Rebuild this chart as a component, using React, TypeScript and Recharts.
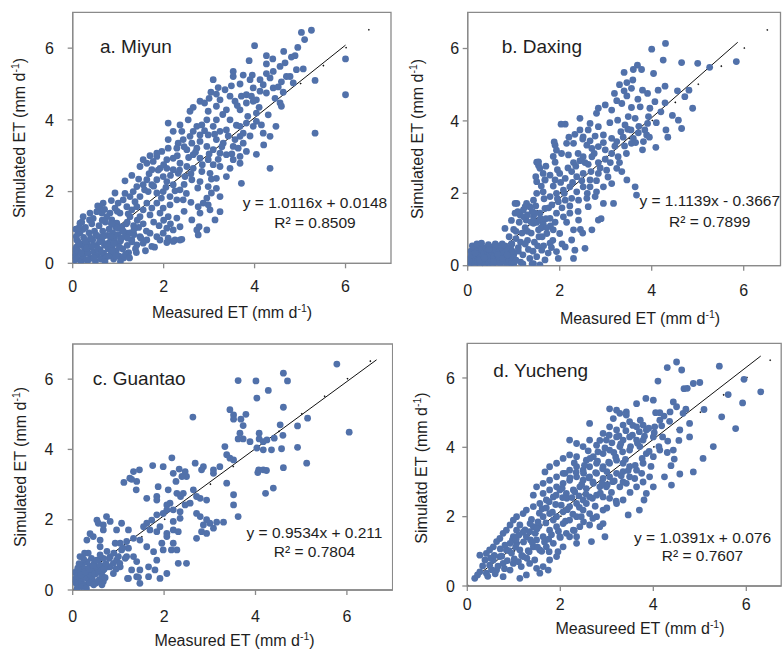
import { ScatterChart, Scatter, XAxis, YAxis, ReferenceLine, ReferenceArea } from "recharts"

const FONT = '"Liberation Sans", Arial, Helvetica, sans-serif'
const DOT_COLOR = "#5171aa"
const FRAME_COLOR = "#8a8a8a"
const TEXT_COLOR = "#1e1e1e"

const axisTicks = [0, 2, 4, 6]
const Y_MAX = 7

const titles = ["a. Miyun", "b. Daxing", "c. Guantao", "d. Yucheng"]
const xTitles = ["Measured ET (mm d", "Measured ET (mm d", "Measured ET (mm d", "Measureed ET (mm d"]
const yTitles = ["Simulated ET (mm d", "Simulated ET (mm d", "Simulated ET (mm d", "Simulatd ET (mm d"]

// linear fit per station: simulated = slope * measured + intercept
const slopes = [1.0116, 1.1139, 0.9534, 1.0391]
const intercepts = [0.0148, -0.3667, 0.211, 0.076]
const rSquared = ["0.8509", "0.7899", "0.7804", "0.7607"]
// x span of the fitted line
const fitFrom = [0.05, 0.33, 0.05, 0.15]
const fitTo = [6.0, 5.87, 6.65, 6.31]

// measured vs simulated daily ET (mm/d)
const miyunPoints = [
  [5.25, 6.5], [5.03, 6.44], [5.1, 6.24], [4.95, 6.02], [5.33, 5.1], [5.33, 3.63], [6.0, 5.7], [6.0, 4.7], [4.0, 6.07], [4.26, 5.79],
  [4.64, 5.91], [4.81, 5.75], [4.89, 5.79], [5.07, 5.42], [4.92, 5.4], [4.67, 5.59], [4.78, 5.21], [4.56, 5.49], [4.41, 5.35], [4.26, 5.56],
  [3.88, 5.65], [4.26, 5.29], [4.12, 5.12], [3.9, 5.12], [3.53, 5.35], [3.53, 5.21], [3.49, 4.95], [3.68, 5.0], [3.35, 4.84], [3.09, 5.12],
  [3.04, 4.77], [3.16, 4.72], [3.46, 4.66], [3.71, 4.66], [3.82, 4.7], [3.93, 4.66], [4.04, 4.56], [4.12, 4.8], [4.26, 4.75], [4.41, 4.89],
  [4.52, 4.92], [4.63, 4.77], [4.85, 5.03], [4.7, 5.21], [4.59, 5.06], [4.34, 5.17], [4.19, 4.98], [3.97, 4.89], [3.97, 4.52], [3.82, 4.47],
  [3.57, 4.52], [3.24, 4.56], [3.16, 4.38], [2.8, 4.52], [2.9, 4.47], [2.58, 4.24], [2.98, 4.24], [3.38, 4.28], [3.68, 4.28], [4.04, 4.19],
  [4.3, 4.14], [4.56, 4.47], [4.59, 4.38], [4.47, 3.82], [4.34, 3.54], [4.19, 3.63], [4.15, 3.86], [4.04, 3.96], [3.97, 3.82], [3.82, 3.91],
  [3.75, 3.63], [3.68, 3.82], [3.68, 3.54], [3.57, 3.45], [3.46, 4.0], [3.38, 3.72], [3.24, 3.68], [3.16, 4.0], [3.09, 3.82], [2.95, 4.0],
  [2.84, 3.86], [2.73, 3.82], [2.65, 3.68], [2.54, 4.0], [2.36, 3.86], [2.4, 3.68], [2.21, 3.68], [2.58, 3.54], [2.8, 3.58], [2.98, 3.58],
  [3.16, 3.45], [3.31, 3.35], [3.53, 3.26], [3.64, 3.21], [3.68, 2.98], [3.82, 3.12], [3.53, 2.89], [3.38, 3.03], [3.24, 3.07], [3.09, 3.17],
  [2.95, 3.26], [2.8, 3.4], [2.73, 3.21], [2.62, 3.35], [2.43, 3.45], [2.32, 3.35], [2.1, 3.45], [1.96, 3.12], [2.1, 3.21], [2.29, 3.21],
  [2.51, 3.17], [2.65, 3.03], [2.8, 2.93], [2.98, 2.89], [3.09, 2.75], [3.24, 2.7], [3.46, 2.65], [3.68, 2.79], [4.34, 2.65], [4.04, 3.04],
  [3.38, 2.42], [3.16, 2.37], [3.02, 2.51], [2.84, 2.56], [2.65, 2.65], [2.51, 2.7], [2.36, 2.79], [2.21, 2.93], [2.07, 2.89], [1.85, 2.98],
  [1.77, 2.84], [1.63, 2.79], [1.55, 2.89], [1.48, 2.7], [1.74, 2.61], [1.92, 2.65], [2.07, 2.65], [2.21, 2.61], [2.32, 2.51], [2.47, 2.42],
  [2.62, 2.33], [2.8, 2.28], [2.98, 2.14], [3.16, 2.09], [3.05, 1.96], [2.95, 1.82], [2.87, 1.68], [2.76, 1.58], [2.8, 1.4], [2.62, 1.21],
  [2.73, 0.93], [2.78, 1.02], [2.76, 0.79], [3.13, 1.21], [3.24, 1.86], [3.02, 1.49], [2.98, 1.63], [2.43, 1.77], [2.36, 2.05], [2.21, 2.19],
  [2.07, 2.28], [1.99, 2.42], [1.85, 2.33], [1.74, 2.19], [1.63, 2.33], [1.55, 2.19], [1.41, 2.14], [1.33, 2.0], [1.26, 1.86], [1.48, 1.86],
  [1.66, 2.0], [1.85, 1.96], [1.99, 2.0], [2.14, 1.86], [2.29, 1.77], [2.14, 1.63], [1.99, 1.54], [1.85, 1.68], [1.74, 1.54], [1.63, 1.68],
  [1.55, 1.49], [1.41, 1.58], [1.3, 1.49], [1.19, 1.58], [1.11, 1.77], [1.0, 1.68], [0.93, 1.54], [0.82, 1.4], [1.04, 1.4], [1.26, 1.3],
  [1.48, 1.3], [1.7, 1.35], [1.92, 1.4], [2.1, 1.3], [2.29, 1.26], [2.36, 1.02], [2.21, 0.93], [2.07, 0.98], [1.99, 0.84], [2.1, 0.7],
  [2.25, 0.65], [2.4, 0.67], [1.85, 0.74], [1.7, 0.84], [1.63, 0.65], [1.48, 0.74], [1.41, 0.51], [1.3, 0.65], [1.19, 0.84], [1.08, 1.02],
  [0.97, 1.12], [0.86, 1.21], [0.75, 1.3], [0.64, 1.4], [0.53, 1.44], [0.38, 1.4], [0.37, 1.21], [0.23, 1.3], [0.16, 1.12], [0.12, 0.84],
  [0.09, 0.65], [0.05, 0.37], [0.05, 0.19], [2.1, 3.91], [1.85, 3.07], [0.93, 1.96], [0.67, 1.68], [0.6, 1.58], [3.71, 2.23], [3.24, 1.44],
  [2.95, 0.93], [1.55, 0.56], [1.74, 0.47], [1.92, 0.65], [2.07, 0.58], [2.21, 0.61], [2.36, 0.65],
  [0.03, 0.08], [0.06, 0.25], [0.08, 0.45], [0.1, 0.12], [0.12, 0.6], [0.14, 0.3], [0.16, 0.85], [0.18, 0.05], [0.2, 0.5], [0.22, 0.2],
  [0.24, 0.72], [0.26, 0.38], [0.28, 1.0], [0.3, 0.1], [0.32, 0.58], [0.34, 0.28], [0.36, 0.85], [0.38, 0.45], [0.4, 0.15], [0.42, 1.1],
  [0.44, 0.65], [0.46, 0.32], [0.48, 0.9], [0.5, 0.05], [0.52, 0.5], [0.54, 0.22], [0.56, 0.75], [0.58, 1.05], [0.6, 0.38], [0.62, 0.12],
  [0.64, 0.62], [0.66, 0.9], [0.68, 0.28], [0.7, 0.5], [0.72, 1.15], [0.74, 0.18], [0.76, 0.78], [0.78, 0.4], [0.8, 0.95], [0.82, 0.6],
  [0.84, 0.25], [0.86, 0.45], [0.88, 0.85], [0.9, 0.12], [0.92, 0.7], [0.94, 1.02], [0.96, 0.35], [0.98, 0.55], [1.0, 0.8], [1.02, 0.2],
  [1.05, 0.62], [1.08, 0.95], [1.1, 0.4], [1.12, 0.15], [1.15, 0.75], [1.18, 1.1], [1.2, 0.5], [1.23, 0.3], [1.26, 0.85], [1.3, 0.6],
  [1.34, 1.05], [1.38, 0.4], [0.07, 0.95], [0.11, 0.35], [0.15, 0.55], [0.19, 0.28], [0.23, 0.95], [0.27, 0.62], [0.31, 0.42], [0.35, 0.1],
  [0.39, 0.7], [0.43, 0.48], [0.47, 0.15], [0.51, 0.8], [0.55, 0.4], [0.59, 0.6], [0.63, 0.3], [0.67, 0.75], [0.71, 0.05], [0.75, 0.55],
  [0.79, 0.2], [0.83, 0.75], [0.87, 0.35], [0.91, 0.55], [0.95, 0.2], [0.99, 0.98], [1.03, 0.45], [1.07, 0.7], [1.11, 0.9], [1.16, 0.25],
  [1.21, 0.7], [0.2, 1.15], [0.45, 1.25], [0.65, 1.2], [0.85, 1.1], [1.35, 0.8], [1.45, 1.0], [1.5, 0.7], [1.42, 1.2], [0.08, 0.75], [0.13, 0.98],
  [0.55, 1.6], [0.7, 1.5], [0.85, 1.75], [0.98, 1.45], [1.15, 1.95], [1.22, 1.38], [1.37, 1.72], [1.45, 2.35], [1.58, 2.05], [1.68, 2.5],
  [1.78, 2.15], [1.88, 2.6], [1.95, 1.82], [2.05, 2.12], [2.15, 2.45], [2.25, 2.02], [2.35, 2.6], [2.45, 2.2], [2.55, 2.95], [2.6, 2.5],
  [2.7, 3.1], [2.75, 2.1], [2.85, 2.75], [2.9, 3.7], [3.0, 3.05], [3.05, 2.35], [3.12, 3.6], [3.2, 2.9], [3.28, 3.25], [3.3, 4.15],
  [3.42, 3.55], [3.5, 3.05], [3.6, 3.85], [3.62, 4.4], [3.75, 3.35], [3.85, 4.1], [3.9, 3.55], [4.1, 4.35], [4.2, 3.3], [4.45, 4.6],
  [1.2, 1.15], [1.35, 0.95], [1.55, 1.1], [1.62, 0.9], [1.78, 1.15], [1.9, 1.05], [2.0, 1.2], [2.15, 1.1], [1.4, 0.3], [1.25, 0.15],
  [1.05, 0.05], [1.6, 0.35], [1.8, 0.45], [2.45, 1.45], [2.5, 1.95], [2.6, 1.7], [1.15, 2.3], [1.3, 2.45], [2.3, 3.0], [2.45, 3.25],
  [2.0, 2.75], [1.7, 3.0], [2.65, 4.35], [3.0, 4.6], [3.2, 4.9], [3.95, 5.25], [4.4, 5.7], [3.75, 5.25],
]

const daxingPoints = [
  [4.3, 6.14], [4.0, 5.98], [4.25, 5.68], [4.65, 5.61], [5.0, 5.59], [5.26, 5.48], [5.84, 5.64], [3.69, 5.54], [3.6, 5.42], [3.78, 5.42],
  [3.4, 5.34], [4.04, 5.31], [3.59, 5.13], [3.46, 5.06], [3.4, 4.83], [3.56, 4.9], [3.8, 4.85], [3.91, 4.76], [4.14, 4.85], [4.29, 4.96],
  [4.56, 4.83], [4.81, 4.85], [4.72, 4.67], [4.89, 4.35], [4.29, 4.5], [4.07, 4.53], [3.96, 4.35], [3.75, 4.39], [3.56, 4.37], [3.35, 4.48],
  [3.24, 4.56], [3.19, 4.76], [2.99, 4.44], [3.13, 4.3], [3.46, 4.69], [2.84, 4.35], [2.8, 4.21], [2.66, 3.93], [2.44, 4.07], [2.44, 3.75],
  [2.62, 3.75], [2.84, 3.84], [3.09, 3.95], [3.26, 4.02], [3.49, 4.12], [3.64, 4.07], [3.93, 4.12], [4.58, 4.02], [4.65, 3.79], [4.31, 3.75],
  [4.35, 3.55], [3.91, 3.93], [3.42, 3.89], [3.33, 3.7], [3.48, 3.77], [3.71, 3.67], [3.85, 3.75], [3.89, 3.61], [3.6, 3.52], [3.82, 3.43],
  [4.09, 3.27], [3.56, 3.38], [3.41, 3.31], [3.24, 3.43], [3.13, 3.52], [2.95, 3.61], [2.77, 3.58], [2.66, 3.45], [2.51, 3.56], [2.33, 3.63],
  [2.12, 3.91], [2.03, 3.91], [1.9, 3.33], [1.88, 3.42], [1.93, 3.19], [1.86, 3.02], [1.9, 2.86], [2.04, 3.1], [2.15, 3.38], [2.3, 3.38],
  [2.59, 3.33], [2.7, 3.24], [2.84, 3.29], [2.99, 3.2], [3.13, 3.1], [3.27, 3.01], [2.7, 3.01], [2.51, 3.01], [2.4, 3.1], [2.19, 3.06],
  [2.3, 2.85], [2.44, 2.9], [2.62, 2.8], [2.84, 2.85], [2.99, 2.94], [1.5, 2.86], [1.54, 2.77],
  [1.48, 2.46], [1.5, 2.32], [1.64, 2.55], [1.68, 2.37], [1.79, 2.5], [1.9, 2.37], [2.0, 2.55], [2.12, 2.41], [2.26, 2.6], [2.37, 2.46],
  [2.51, 2.55], [2.66, 2.37], [2.84, 2.55], [3.02, 2.64], [3.24, 2.69], [3.35, 2.6], [3.46, 2.37], [3.13, 2.27], [2.95, 2.18], [2.8, 2.04],
  [2.66, 2.18], [2.51, 2.18], [2.37, 2.04], [2.22, 2.18], [2.08, 2.09], [1.93, 2.0], [1.79, 1.91], [1.64, 2.04], [1.5, 2.0], [1.43, 1.81],
  [1.35, 1.63], [1.28, 1.72], [1.21, 1.54], [1.14, 1.4], [1.07, 1.72], [1.03, 1.45], [1.27, 1.26], [1.43, 1.35], [1.57, 1.45], [1.68, 1.58],
  [1.83, 1.68], [1.97, 1.77], [2.12, 1.81], [2.26, 1.86], [2.41, 1.81], [2.59, 1.86], [2.77, 1.91], [2.95, 1.72], [3.17, 1.72], [3.64, 2.18],
  [3.67, 1.95], [2.84, 1.26], [2.7, 0.99], [2.41, 1.26], [2.22, 1.45], [2.08, 1.35], [1.93, 1.45], [1.79, 1.31], [1.64, 1.17], [1.54, 0.99],
  [1.43, 1.17], [1.72, 0.89], [1.86, 0.99], [2.0, 0.89], [2.12, 0.52], [2.26, 0.71], [2.3, 0.99], [2.33, 0.43], [1.93, 0.39], [1.79, 0.62],
  [1.61, 0.43], [1.5, 0.25], [1.68, 0.16], [1.97, 0.2], [2.3, 0.2], [2.55, 0.48], [1.43, 0.06], [1.57, 0.02], [2.9, 1.3], [2.62, 1.63], [2.45, 1.0],
  [0.81, 1.03], [1.03, 1.72], [1.09, 1.49], [1.25, 1.63], [1.46, 1.45], [1.54, 2.87], [1.57, 2.69], [1.68, 2.37],
  [0.9, 0.8], [0.95, 0.6], [1.0, 1.0], [1.05, 0.75], [1.1, 0.5], [1.12, 1.2], [1.18, 0.9], [1.2, 0.3], [1.25, 1.05], [1.3, 0.7],
  [1.32, 0.45], [1.38, 0.9], [1.4, 1.5], [1.45, 0.65], [1.5, 1.2], [1.55, 0.8], [1.6, 1.05], [1.65, 0.55], [1.7, 1.3], [1.75, 0.35],
  [1.8, 1.1], [1.85, 0.7], [1.0, 0.3], [0.85, 0.45], [0.9, 0.2], [1.15, 0.1], [1.35, 0.2], [1.4, 0.05], [0.75, 0.6], [0.7, 0.35],
  [0.03, 0.05], [0.05, 0.2], [0.07, 0.4], [0.09, 0.1], [0.11, 0.3], [0.13, 0.5], [0.15, 0.02], [0.17, 0.22], [0.19, 0.42], [0.21, 0.12],
  [0.23, 0.32], [0.25, 0.55], [0.27, 0.05], [0.29, 0.25], [0.31, 0.45], [0.33, 0.15], [0.35, 0.35], [0.37, 0.02], [0.39, 0.5], [0.41, 0.2],
  [0.43, 0.4], [0.45, 0.08], [0.47, 0.3], [0.49, 0.52], [0.51, 0.15], [0.53, 0.38], [0.55, 0.02], [0.57, 0.25], [0.59, 0.45], [0.61, 0.1],
  [0.63, 0.32], [0.65, 0.55], [0.67, 0.18], [0.69, 0.4], [0.71, 0.05], [0.73, 0.28], [0.75, 0.48], [0.77, 0.12], [0.79, 0.35], [0.81, 0.55],
  [0.83, 0.22], [0.85, 0.02], [0.87, 0.42], [0.89, 0.15], [0.91, 0.3], [0.93, 0.5], [0.95, 0.08], [0.97, 0.4], [0.99, 0.22], [0.1, 0.55],
  [0.2, 0.6], [0.3, 0.62], [0.45, 0.58], [0.6, 0.6], [0.08, 0.3], [0.16, 0.35], [0.26, 0.15], [0.36, 0.22], [0.46, 0.45], [0.56, 0.12],
  [0.66, 0.3], [0.76, 0.2], [0.86, 0.3], [0.96, 0.6], [1.05, 0.15], [1.1, 0.4],
  [1.15, 0.65], [1.22, 1.35], [1.3, 0.95], [1.38, 1.2], [1.42, 0.4], [1.48, 1.65], [1.52, 0.55], [1.58, 1.3], [1.62, 0.8], [1.66, 1.85],
  [1.72, 1.05], [1.76, 1.6], [1.82, 0.5], [1.86, 2.2], [1.9, 1.2], [1.95, 1.85], [2.02, 2.3], [2.05, 1.6], [2.1, 2.0], [2.18, 2.7],
  [2.22, 1.65], [2.28, 2.3], [2.35, 2.75], [2.4, 1.5], [2.48, 2.35], [2.55, 2.85], [2.6, 2.0], [2.68, 2.6], [2.75, 3.1], [2.8, 2.35],
  [2.88, 2.7], [2.95, 3.4], [3.05, 2.45], [3.1, 2.85], [3.2, 3.3], [3.3, 2.85], [3.38, 3.55], [3.45, 3.1], [3.55, 3.75], [3.65, 3.4],
  [3.72, 3.85], [3.8, 3.2], [3.95, 3.55], [4.1, 3.95], [4.2, 4.25], [4.45, 4.15], [3.7, 4.6], [3.3, 5.0], [2.5, 3.5], [2.2, 3.55],
  [1.95, 2.65], [1.7, 2.75], [1.6, 2.2], [1.25, 0.6], [1.05, 0.95], [0.95, 1.25], [1.0, 0.05], [1.2, 0.05], [1.3, 1.4], [2.05, 0.6],
  [2.15, 1.2], [2.5, 0.9],
]

const guantaoPoints = [
  [5.78, 6.43], [4.61, 6.17], [3.62, 5.96], [4.01, 5.95], [4.7, 5.95], [4.28, 5.68], [4.03, 5.46], [2.63, 4.92], [3.44, 5.13], [3.52, 4.98],
  [3.52, 4.86], [3.68, 4.86], [3.79, 5.0], [3.73, 4.68], [3.66, 4.46], [3.62, 4.3], [3.73, 4.3], [3.88, 4.22], [4.08, 4.46], [4.08, 4.3],
  [4.17, 4.22], [4.25, 4.27], [4.61, 5.2], [4.54, 4.7], [4.6, 4.4], [4.41, 4.32], [4.35, 3.99], [4.57, 4.02], [4.92, 4.67], [4.92, 4.06],
  [5.12, 3.61], [5.14, 4.89], [6.05, 4.49], [4.03, 4.04], [4.17, 3.99], [4.07, 3.42], [4.05, 3.34], [4.17, 3.42], [4.24, 3.4], [4.61, 3.48],
  [4.22, 2.75], [4.39, 2.9], [3.33, 4.08], [3.37, 3.85], [3.44, 3.75], [3.52, 3.7], [3.52, 2.71], [3.52, 2.42], [3.62, 2.09], [3.37, 3.04],
  [3.22, 3.51], [3.08, 3.42], [3.08, 3.32], [2.86, 3.51], [2.82, 3.42], [2.68, 3.61], [2.49, 3.23], [2.46, 3.37], [2.33, 3.44], [2.2, 3.32],
  [2.39, 3.23], [2.26, 3.09], [1.98, 3.51], [2.17, 3.76], [1.75, 3.54], [1.46, 3.42], [1.33, 3.37], [1.12, 3.06], [1.25, 3.18], [1.39, 2.85],
  [1.4, 3.09], [1.29, 3.15], [1.62, 2.61], [1.84, 2.66], [1.87, 2.94], [1.84, 2.56], [2.09, 2.85], [2.28, 2.75], [2.36, 2.66], [2.42, 2.75],
  [2.64, 2.85], [2.71, 2.66], [2.79, 2.61], [2.93, 2.56], [2.57, 2.47], [2.46, 2.42], [2.13, 2.47], [2.06, 2.42], [2.2, 2.28], [2.35, 2.23],
  [2.71, 2.18], [2.79, 2.09], [2.93, 2.0], [3.0, 1.9], [2.86, 1.85], [3.15, 1.93], [3.3, 1.93], [2.82, 1.66], [2.93, 1.61], [3.08, 1.76],
  [2.71, 1.47], [2.35, 2.04], [2.2, 1.95], [2.06, 2.28], [1.98, 2.18], [1.84, 2.14], [1.73, 1.99], [1.62, 1.9], [1.55, 1.8], [1.69, 1.71],
  [1.84, 1.66], [1.91, 1.8], [2.06, 1.61], [2.2, 1.71], [2.31, 1.66], [2.06, 1.52], [1.95, 1.33], [1.98, 1.14], [2.2, 1.33], [2.16, 1.14],
  [2.28, 1.14], [2.31, 0.76], [2.49, 0.76], [2.06, 0.47], [1.91, 0.33], [1.8, 0.57], [1.84, 0.85], [1.77, 1.09], [1.62, 1.23], [1.47, 1.42],
  [1.33, 1.47], [1.22, 1.71], [1.07, 1.9], [0.96, 1.71], [0.82, 1.95], [0.74, 2.09], [0.67, 1.85], [0.53, 1.99], [0.56, 1.9], [0.67, 1.71],
  [0.93, 1.33], [1.04, 1.33], [1.18, 1.38], [1.22, 1.19], [1.07, 1.14], [1.18, 0.95], [1.33, 0.95], [1.4, 0.81], [1.47, 0.57], [1.4, 0.38],
  [1.22, 0.33], [1.66, 0.66], [1.66, 0.38], [1.47, 0.19], [1.29, 0.57], [0.6, 1.23], [0.45, 1.52], [0.38, 1.6], [0.31, 1.42], [0.6, 1.42],
  [0.82, 0.95], [0.89, 0.76], [1.04, 0.66], [0.96, 0.85], [0.78, 0.66], [0.67, 0.57], [0.67, 0.24],
  [0.82, 0.66], [0.89, 0.47], [1.03, 0.76], [1.2, 0.33], [1.44, 0.36], [0.8, 0.9], [0.9, 1.05], [1.0, 0.95], [0.95, 0.6], [1.1, 1.2],
  [1.15, 0.9], [0.75, 1.1],
  [0.03, 0.3], [0.05, 0.5], [0.07, 0.2], [0.09, 0.4], [0.11, 0.62], [0.13, 0.12], [0.15, 0.35], [0.17, 0.55], [0.19, 0.25], [0.21, 0.72],
  [0.23, 0.45], [0.25, 0.15], [0.27, 0.6], [0.29, 0.35], [0.31, 0.8], [0.33, 0.5], [0.35, 0.25], [0.37, 0.68], [0.39, 0.42], [0.41, 0.9],
  [0.43, 0.3], [0.45, 0.58], [0.47, 0.75], [0.49, 0.45], [0.51, 0.2], [0.53, 0.65], [0.55, 0.85], [0.57, 0.5], [0.59, 0.3], [0.61, 0.7],
  [0.63, 0.55], [0.65, 0.4], [0.67, 0.9], [0.69, 0.6], [0.71, 0.35], [0.73, 0.75], [0.1, 0.05], [0.2, 0.1], [0.3, 0.05], [0.14, 0.75],
  [0.24, 0.88], [0.34, 1.05], [0.38, 0.2], [0.46, 0.15], [0.56, 0.25], [0.64, 0.15], [0.18, 0.42], [0.28, 0.52], [0.36, 0.6], [0.44, 0.7],
  [0.52, 0.85], [0.6, 1.0], [0.26, 1.05], [0.16, 0.95],
]

const yuchengPoints = [
  [4.5, 6.46], [4.3, 6.3], [5.42, 6.34], [4.61, 6.23], [4.1, 5.91], [4.66, 5.69], [4.73, 5.7], [4.86, 5.84], [5.0, 5.87], [5.95, 5.96],
  [5.61, 5.52], [6.31, 5.6], [5.47, 4.88], [5.92, 5.28], [5.09, 5.09], [5.77, 4.54], [5.29, 4.02], [5.07, 3.68], [4.86, 3.29], [4.57, 3.23],
  [4.38, 3.47], [4.45, 3.66], [4.43, 3.92], [4.39, 2.91], [4.24, 3.15], [4.57, 4.5], [4.64, 4.98], [4.78, 4.69], [4.78, 4.3], [4.43, 5.31],
  [4.5, 5.17], [4.36, 5.02], [4.23, 4.9], [4.14, 5.0], [4.14, 4.78], [4.03, 4.59], [4.0, 5.36], [3.84, 5.41], [3.64, 5.26], [3.42, 5.02],
  [3.42, 4.93], [3.28, 4.98], [3.21, 5.07], [3.06, 5.11], [3.14, 4.83], [3.06, 4.59], [3.21, 4.5], [3.35, 4.64], [3.49, 4.74], [3.64, 4.59],
  [3.78, 4.64], [3.85, 4.5], [4.0, 4.3], [3.78, 4.21], [3.64, 4.21], [3.49, 4.3], [3.35, 4.21], [3.21, 4.3], [2.99, 4.21], [2.92, 4.4],
  [2.63, 4.69], [2.78, 4.06], [2.63, 4.21], [2.49, 4.02], [2.35, 4.11], [2.2, 4.21], [2.35, 3.73], [2.2, 3.78], [2.06, 3.68], [1.92, 3.54],
  [1.77, 3.44], [1.67, 3.29], [2.56, 3.63], [2.71, 3.73], [2.92, 3.82], [3.06, 3.92], [3.28, 4.02], [3.49, 3.92], [3.71, 4.02], [3.85, 3.82],
  [4.0, 3.73], [4.14, 3.92], [3.78, 3.54], [3.64, 3.34], [3.49, 3.44], [3.35, 3.54], [3.21, 3.63], [3.06, 3.54], [2.92, 3.44], [2.78, 3.54],
  [2.63, 3.44], [2.49, 3.34], [2.35, 3.44], [2.2, 3.34], [2.06, 3.25], [1.92, 3.15], [1.77, 3.05], [1.63, 2.96], [1.49, 2.86], [1.42, 2.62],
  [1.63, 2.67], [1.77, 2.77], [1.92, 2.86], [2.06, 2.96], [2.2, 3.05], [2.35, 3.15], [2.49, 3.05], [2.63, 3.15], [2.78, 3.25], [2.92, 3.1],
  [3.06, 3.15], [3.21, 3.25], [3.35, 3.3], [3.49, 3.15], [3.42, 2.96], [3.28, 2.86], [3.13, 3.01], [2.99, 2.86], [2.85, 2.86], [2.71, 2.96],
  [2.56, 2.81], [2.42, 2.86], [2.28, 2.77], [2.13, 2.67], [1.99, 2.77], [1.85, 2.57], [1.7, 2.48], [1.56, 2.38], [1.42, 2.29], [1.27, 2.19],
  [1.2, 2.09], [1.06, 2.0], [0.99, 1.9], [0.92, 1.76], [0.84, 1.61], [0.77, 1.52], [0.7, 1.37], [0.63, 1.28], [0.56, 1.13], [0.48, 1.04],
  [0.41, 0.94], [0.27, 0.89], [0.38, 0.75], [0.48, 0.6], [0.63, 0.46], [0.77, 0.27], [0.27, 0.41], [0.16, 0.22], [0.41, 0.37], [0.56, 0.75],
  [0.7, 0.85], [0.84, 1.04], [0.92, 1.23], [0.99, 1.42], [1.06, 1.61], [1.13, 1.76], [1.06, 1.23], [1.13, 1.04], [1.2, 0.85], [1.34, 0.65],
  [1.49, 0.51], [1.63, 0.56], [1.74, 0.46], [1.13, 0.22], [1.27, 0.32], [0.92, 0.46], [0.77, 0.65], [0.99, 0.65], [1.16, 0.56], [1.27, 1.42],
  [1.34, 1.57], [1.42, 1.71], [1.52, 1.85], [1.63, 2.0], [1.77, 2.09], [1.92, 2.0], [2.06, 2.14], [2.2, 2.29], [2.35, 2.38], [2.49, 2.48],
  [2.63, 2.57], [2.78, 2.62], [2.92, 2.57], [3.06, 2.53], [3.21, 2.38], [3.35, 2.48], [2.92, 2.19], [2.78, 2.0], [2.63, 2.09], [2.49, 2.19],
  [2.35, 2.0], [2.2, 1.9], [2.06, 1.8], [1.92, 1.71], [1.77, 1.61], [1.63, 1.42], [1.49, 1.33], [1.42, 1.13], [1.56, 1.04], [1.7, 1.13],
  [1.85, 1.23], [1.99, 1.42], [2.13, 1.52], [2.28, 1.61], [2.42, 1.71], [2.63, 1.76], [2.92, 1.8], [2.85, 1.71], [2.06, 1.13], [2.2, 1.42],
  [1.95, 0.99], [2.35, 1.42], [2.35, 1.23], [2.67, 1.28], [2.96, 1.42], [3.7, 2.19], [3.46, 2.05], [3.85, 2.67], [4.0, 2.86], [3.64, 2.86],
  [3.78, 3.0], [3.92, 3.15], [3.8, 2.48], [1.56, 0.37], [1.45, 0.75], [1.77, 0.75], [1.92, 0.85], [1.76, 0.99], [1.33, 0.99],
  [0.22, 0.32], [0.33, 0.58], [0.44, 0.28], [0.52, 0.47], [0.58, 0.88], [0.66, 0.57], [0.71, 1.07], [0.74, 0.86], [0.81, 1.18], [0.86, 0.73],
  [0.9, 1.02], [0.97, 1.33], [1.01, 0.78], [1.04, 1.12], [1.11, 1.47], [1.17, 0.88], [1.21, 1.27], [1.24, 1.62], [1.31, 1.02], [1.36, 1.33],
  [1.38, 1.92], [1.46, 1.52], [1.51, 1.12], [1.54, 1.73], [1.61, 2.23], [1.66, 1.27], [1.69, 1.82], [1.76, 2.43], [1.81, 1.48], [1.83, 2.13],
  [1.91, 2.62], [1.96, 1.58], [2.02, 2.33], [2.04, 2.82], [2.11, 1.87], [2.14, 2.53], [2.21, 3.12], [2.27, 2.07], [2.31, 2.72], [2.34, 3.28],
  [2.41, 2.27], [2.46, 2.93], [2.52, 3.48], [2.56, 2.38], [2.61, 3.12], [2.64, 3.68], [2.69, 2.53], [2.76, 3.27], [2.81, 3.87], [2.86, 2.68],
  [2.91, 3.38], [2.96, 3.98], [3.01, 2.92], [3.04, 3.57], [3.11, 4.13], [3.16, 3.03], [3.19, 3.72], [3.26, 4.33], [3.31, 3.18], [3.34, 3.87],
  [3.41, 4.48], [3.46, 3.33], [3.51, 4.02], [3.56, 4.63], [3.61, 3.48], [3.66, 4.12], [3.72, 4.78], [3.76, 3.68], [3.81, 4.32], [3.91, 3.88],
  [4.02, 4.42], [4.12, 4.02], [4.18, 4.62], [4.31, 4.18],
  [0.5, 0.8], [0.6, 0.35], [0.8, 0.5], [0.95, 0.95], [1.05, 1.35], [1.1, 0.7], [1.2, 1.55], [1.28, 0.8], [1.35, 1.8], [1.4, 1.25],
  [1.5, 1.65], [1.55, 2.1], [1.6, 1.0], [1.7, 2.25], [1.75, 1.35], [1.85, 1.9], [1.9, 2.35], [2.0, 1.4], [2.05, 2.55], [2.1, 3.25],
  [2.15, 2.2], [2.25, 2.55], [2.3, 3.55], [2.4, 2.6], [2.45, 2.0], [2.5, 3.25], [2.55, 2.65], [2.6, 3.9], [2.7, 3.0], [2.75, 2.3],
  [2.8, 3.6], [2.85, 4.2], [2.9, 2.95], [3.0, 3.3], [3.05, 4.35], [3.1, 2.7], [3.15, 3.85], [3.2, 2.45], [3.3, 4.1], [3.35, 3.0],
  [3.4, 3.65], [3.5, 2.7], [3.55, 4.35], [3.6, 3.1], [3.7, 4.45], [3.75, 3.25], [3.9, 4.55], [3.95, 3.45], [4.05, 5.0], [4.2, 4.3],
  [4.3, 3.85], [4.35, 4.75], [4.55, 4.2], [4.7, 5.1], [2.3, 1.6], [2.5, 1.85], [2.7, 1.95], [3.0, 2.25],
]

const stationPoints = [miyunPoints, daxingPoints, guantaoPoints, yuchengPoints]

// where each panel sits on the page and where its plot box falls inside it
const layouts = [
  { left: 0, top: 0, width: 393, height: 330, plotLeft: 72.7, plotTop: 12.3, plotBottom: 263.3, plotWidth: 318.3, xMax: 7,
    xTickGap: 12, yTickGap: 13.7, title: [100, 52.5], eq: [315, 207.5, 20], xLab: [232, 318], yLab: [24.6, 138] },
  { left: 390, top: 0, width: 393, height: 330, plotLeft: 77.7, plotTop: 12.3, plotBottom: 265.7, plotWidth: 312.8, xMax: 6.8,
    xTickGap: 14, yTickGap: 3.6, title: [111.7, 53.3], eq: [319.7, 205.5, 21], xLab: [250, 324], yLab: [33.1, 139] },
  { left: 0, top: 330, width: 393, height: 320, plotLeft: 72.7, plotTop: 14, plotBottom: 260, plotWidth: 319.9, xMax: 7,
    xTickGap: 15.5, yTickGap: 14.4, title: [92.7, 55], eq: [314.5, 208.3, 19], xLab: [234.5, 316], yLab: [26.4, 137] },
  { left: 390, top: 330, width: 393, height: 320, plotLeft: 77.3, plotTop: 13.3, plotBottom: 256, plotWidth: 313.9, xMax: 6.75,
    xTickGap: 7.5, yTickGap: 7.3, title: [103.3, 47], eq: [312.5, 213.3, 17.5], xLab: [250, 304], yLab: [37.3, 138] },
]

const Dot = (props: any) => <circle cx={props.cx} cy={props.cy} r={3.4} fill={DOT_COLOR} />

function Panel({ i }: { i: number }) {
  const L = layouts[i]
  const plotHeight = L.plotBottom - L.plotTop
  const right = L.width - L.plotLeft - L.plotWidth
  // 1:1 line is drawn as small dots every 0.5 mm/d
  const step = Math.hypot((0.5 * L.plotWidth) / L.xMax, (0.5 * plotHeight) / Y_MAX)
  const diagEnd = Math.min(L.xMax, Y_MAX)
  const m = slopes[i]
  const b = intercepts[i]
  const data = stationPoints[i].map(([x, y]) => ({ x, y }))
  const eqText = `y = ${m}x ${b < 0 ? "-" : "+"} ${Math.abs(b)}`
  const tickStyle = { fill: TEXT_COLOR, fontSize: 16 }

  return (
    <div style={{ position: "absolute", left: L.left, top: L.top }}>
      <ScatterChart width={L.width} height={L.height} margin={{ top: L.plotTop, right, bottom: 0, left: 0 }}>
        <XAxis
          type="number"
          dataKey="x"
          domain={[0, L.xMax]}
          ticks={axisTicks}
          interval={0}
          allowDataOverflow
          height={L.height - L.plotBottom}
          tickSize={5}
          tickMargin={L.xTickGap}
          stroke={FRAME_COLOR}
          strokeWidth={1.3}
          tick={tickStyle}
        />
        <YAxis
          type="number"
          dataKey="y"
          domain={[0, Y_MAX]}
          ticks={axisTicks}
          interval={0}
          allowDataOverflow
          width={L.plotLeft}
          tickSize={5}
          tickMargin={L.yTickGap}
          stroke={FRAME_COLOR}
          strokeWidth={1.3}
          tick={tickStyle}
        />
        <ReferenceArea x1={0} x2={L.xMax} y1={0} y2={Y_MAX} fill="none" stroke={FRAME_COLOR} strokeWidth={1.3} />
        <Scatter data={data} shape={Dot} isAnimationActive={false} />
        <ReferenceLine
          segment={[
            { x: fitFrom[i], y: m * fitFrom[i] + b },
            { x: fitTo[i], y: m * fitTo[i] + b },
          ]}
          stroke="#111"
          strokeWidth={1}
        />
        <ReferenceLine
          segment={[
            { x: 0, y: 0 },
            { x: diagEnd, y: diagEnd },
          ]}
          stroke="#111"
          strokeWidth={1.5}
          strokeDasharray={`1.5 ${step - 1.5}`}
        />
        <text x={L.title[0]} y={L.title[1]} fontSize={19} fill={TEXT_COLOR}>
          {titles[i]}
        </text>
        <text x={L.eq[0]} y={L.eq[1]} fontSize={15.5} fill={TEXT_COLOR} textAnchor="middle">
          {eqText}
        </text>
        <text x={L.eq[0]} y={L.eq[1] + L.eq[2]} fontSize={15.5} fill={TEXT_COLOR} textAnchor="middle">
          R² = {rSquared[i]}
        </text>
        <text x={L.xLab[0]} y={L.xLab[1]} fontSize={16} fill={TEXT_COLOR} textAnchor="middle">
          {xTitles[i]}
          <tspan dy={-6} fontSize={10.5}>-1</tspan>
          <tspan dy={6}>)</tspan>
        </text>
        <text
          x={L.yLab[0]}
          y={L.yLab[1]}
          fontSize={16}
          fill={TEXT_COLOR}
          textAnchor="middle"
          transform={`rotate(-90 ${L.yLab[0]} ${L.yLab[1]})`}
        >
          {yTitles[i]}
          <tspan dy={-6} fontSize={10.5}>-1</tspan>
          <tspan dy={6}>)</tspan>
        </text>
      </ScatterChart>
    </div>
  )
}

export default function App() {
  return (
    <div
      style={{
        position: "absolute",
        left: 0,
        top: 0,
        width: 783,
        height: 650,
        background: "#fff",
        fontFamily: FONT,
        overflow: "hidden",
      }}
    >
      {[0, 1, 2, 3].map((i) => (
        <Panel key={i} i={i} />
      ))}
    </div>
  )
}
